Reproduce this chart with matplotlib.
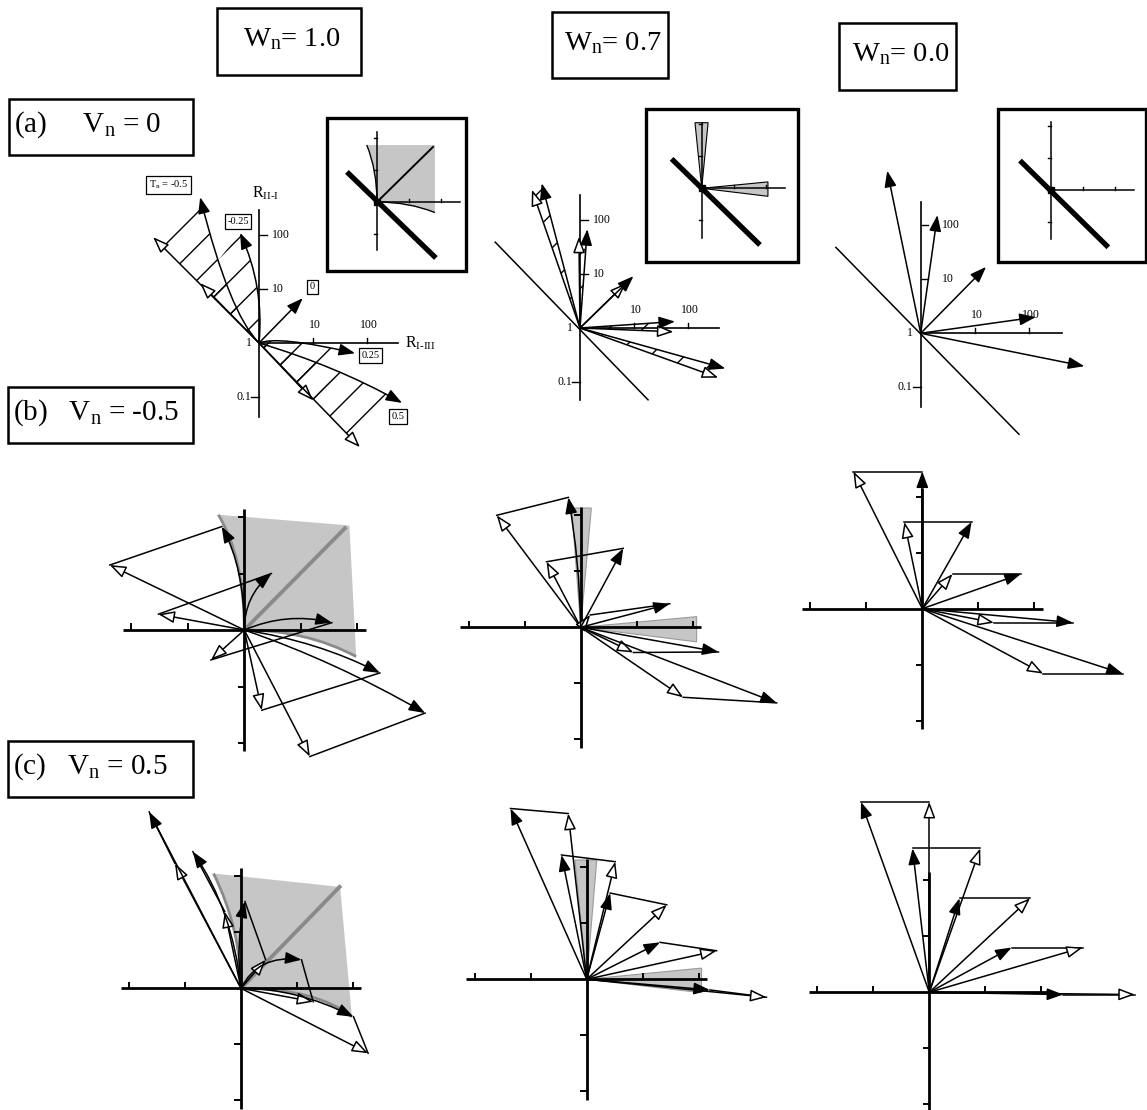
import numpy as np
import matplotlib
matplotlib.use('Agg')
import matplotlib.pyplot as plt
from matplotlib.path import Path
from matplotlib.patches import FancyArrowPatch, PathPatch, Rectangle, Polygon
from matplotlib.collections import LineCollection

nan = np.nan

# ---------------- row (a): Vn = 0, log axes (decades) ----------------
TN_LABELS = ['T$_\\mathrm{n}$ = -0.5', '-0.25', '0', '0.25', '0.5']
TN_LABEL_POS = np.array([[-1.68, 2.93], [-0.39, 2.25], [0.99, 1.04], [2.07, -0.23], [2.58, -1.36]])

# Wn = 1.0
A1_TIP = np.array([[-1.09, 2.70], [-0.35, 2.04], [0.81, 0.83], [1.78, -0.19], [2.65, -1.11]])
A1_CTRL = np.array([[-0.55, 0.55], [0.10, 1.03], [nan, nan], [0.35, 0.14], [1.44, -0.43]])
A1_OPEN = np.array([[-1.96, 1.96], [-1.09, 1.11], [nan, nan], [1.00, -1.06], [1.87, -1.93]])
# Wn = 0.7
A2_TIP = np.array([[-0.71, 2.68], [0.135, 1.83], [0.99, 0.96], [1.76, 0.12], [2.69, -0.75]])
A2_OPEN = np.array([[-0.89, 2.56], [-0.02, 1.69], [0.85, 0.83], [1.73, -0.07], [2.56, -0.92]])
A2_DIAG = np.array([[-1.57, 1.59], [1.26, -1.33]])
# Wn = 0.0
A3_TIP = np.array([[-0.62, 3.01], [0.31, 2.19], [1.21, 1.23], [2.13, 0.30], [3.03, -0.61]])
A3_DIAG = np.array([[-1.57, 1.59], [1.82, -1.87]])

DECADES = [1, 2]
DECADE_LABELS = ['10', '100']

# ---------------- row (b): Vn = -0.5 ----------------
B1_TIP = np.array([[-0.40, 1.83], [0.48, 1.00], [1.55, 0.13], [2.40, -0.76], [3.20, -1.47]])
B1_CTRL = np.array([[0.0, 1.1], [0.0, 0.6], [0.75, 0.32], [1.3, -0.2], [1.6, -0.55]])
B1_OPEN = np.array([[-2.38, 1.15], [-1.52, 0.28], [-0.59, -0.53], [0.31, -1.42], [1.16, -2.24]])
B1_SHADE = dict(ctrl_l=(0.0, 1.28), top_l=(-0.46, 2.04), top_r=(1.86, 1.85),
                bot_r=(1.98, -0.47), ctrl_b=(1.1, 0.0), diag=(1.78, 1.80))

B2_TIP = np.array([[-0.22, 2.32], [0.76, 1.41], [1.59, 0.42], [2.46, -0.44], [3.50, -1.35]])
B2_CTRL = np.array([[-0.02, 1.2], [nan, nan], [nan, nan], [nan, nan], [nan, nan]])
B2_OPEN = np.array([[-1.50, 2.00], [-0.61, 1.17], [0.17, 0.22], [0.94, -0.45], [1.83, -1.25]])
B2_WEDGES = [[(-0.16, 2.13), (0.19, 2.13)], [(2.07, 0.19), (2.07, -0.26)]]

B3_TIP = np.array([[0.0, 2.45], [0.88, 1.55], [1.76, 0.62], [2.69, -0.25], [3.58, -1.16]])
B3_OPEN = np.array([[-1.23, 2.45], [-0.32, 1.55], [0.54, 0.62], [1.28, -0.25], [2.16, -1.16]])

# ---------------- row (c): Vn = 0.5 ----------------
C1_TIP = np.array([[-1.64, 3.15], [-0.86, 2.44], [0.07, 1.55], [1.08, 0.51], [2.01, -0.51]])
C1_CTRL = np.array([[nan, nan], [-0.15, 1.4], [-0.1, 0.8], [0.3, 0.6], [1.0, 0.0]])
C1_OPEN = np.array([[-1.18, 2.23], [-0.29, 1.37], [0.44, 0.51], [1.29, -0.24], [2.27, -1.16]])
C1_SHADE = dict(ctrl_l=(0.0, 1.05), top_l=(-0.49, 2.05), top_r=(1.77, 1.81),
                bot_r=(1.98, -0.51), ctrl_b=(1.35, 0.0), diag=(1.76, 1.81))

C2_TIP = np.array([[-1.36, 3.05], [-0.45, 2.22], [0.42, 1.54], [1.31, 0.66], [2.20, -0.19]])
C2_OPEN = np.array([[-0.33, 2.96], [0.51, 2.10], [1.43, 1.33], [2.32, 0.51], [3.21, -0.32]])
C2_WEDGES = [[(-0.21, 2.13), (0.18, 2.13)], [(2.05, 0.20), (2.05, -0.24)]]

C3_TIP = np.array([[-1.22, 3.40], [-0.30, 2.57], [0.54, 1.68], [1.47, 0.80], [2.39, -0.04]])
C3_OPEN = np.array([[0.0, 3.40], [0.91, 2.57], [1.80, 1.68], [2.74, 0.80], [3.67, -0.04]])

# ---------------- insets of row (a) ----------------
I1_THICK = np.array([[-0.94, 0.94], [1.84, -1.75]])
I1_SHADE = dict(ctrl_l=(0.0, 1.0), top_l=(-0.32, 1.78), top_r=(1.81, 1.78),
                bot_r=(1.81, -0.33), ctrl_b=(1.0, 0.0), diag=(1.75, 1.72))
I2_THICK = np.array([[-0.94, 0.92], [1.82, -1.77]])
I2_WEDGES = [[(-0.21, 2.05), (0.20, 2.05)], [(2.07, 0.20), (2.07, -0.25)]]
I3_THICK = np.array([[-0.96, 0.92], [1.80, -1.79]])

W_TITLES = ['W$_\\mathrm{n}$= 1.0', 'W$_\\mathrm{n}$= 0.7', 'W$_\\mathrm{n}$= 0.0']
ROW_TITLES = ['(a)     V$_\\mathrm{n}$ = 0', '(b)   V$_\\mathrm{n}$ = -0.5', '(c)   V$_\\mathrm{n}$ = 0.5']

plt.rcParams['font.family'] = ['Liberation Serif', 'DejaVu Serif']
plt.rcParams['mathtext.fontset'] = 'custom'
plt.rcParams['mathtext.rm'] = 'Liberation Serif'
plt.rcParams['mathtext.it'] = 'Liberation Serif:italic'

W, H = 1147, 1110
fig = plt.figure(figsize=(W / 100, H / 100), dpi=100)
bg = fig.add_axes([0, 0, 1, 1])
bg.set_xlim(0, W)
bg.set_ylim(H, 0)
bg.axis('off')

SHADE = '#c6c6c6'
HEAD = '-|>,head_length=0.7,head_width=0.26'
M, C3c, L, CL = Path.MOVETO, Path.CURVE3, Path.LINETO, Path.CLOSEPOLY


def panel(ox, oy, u, ext):
    ax = fig.add_axes([(ox - ext * u) / W, 1 - (oy + ext * u) / H, 2 * ext * u / W, 2 * ext * u / H])
    ax.set_xlim(-ext, ext)
    ax.set_ylim(-ext, ext)
    ax.axis('off')
    return ax


def curve(tip, ctrl=None):
    if ctrl is None or np.isnan(ctrl[0]):
        return Path([(0, 0), tuple(tip)])
    return Path([(0, 0), tuple(ctrl), tuple(tip)], [M, C3c, C3c])


def arrow(ax, tip, ctrl=None, filled=True, lw=1.1):
    ax.add_patch(FancyArrowPatch(path=curve(tip, ctrl), arrowstyle=HEAD, mutation_scale=14,
                                 lw=lw, fc='k' if filled else 'w', ec='k',
                                 zorder=5 if filled else 4, clip_on=False))


def hatch(ax, path, step=0.44):
    clip = PathPatch(path, fc='none', ec='none', lw=0)
    ax.add_patch(clip)
    offs = np.arange(-12, 12, step * np.sqrt(2))
    lc = LineCollection([[(-7, -7 + c), (7, 7 + c)] for c in offs], colors='k',
                        linewidths=1.0, zorder=3)
    ax.add_collection(lc, autolim=False)
    lc.set_clip_path(clip)


def shade(ax, s, edge='#8a8a8a', edge_lw=2.0, diag_color='#8a8a8a', diag_lw=2.8):
    verts = [(0, 0), s['ctrl_l'], s['top_l'], s['top_r'], s['bot_r'], s['ctrl_b'], (0, 0), (0, 0)]
    ax.add_patch(PathPatch(Path(verts, [M, C3c, C3c, L, L, C3c, C3c, CL]), fc=SHADE, ec='none', zorder=1))
    for a, b in [(s['ctrl_l'], s['top_l']), (s['ctrl_b'], s['bot_r'])]:
        ax.add_patch(PathPatch(Path([(0, 0), a, b], [M, C3c, C3c]), fc='none', ec=edge, lw=edge_lw, zorder=1.5))
    ax.plot([0, s['diag'][0]], [0, s['diag'][1]], color=diag_color, lw=diag_lw, zorder=1.5)


def wedges(ax, wl, edge='#9a9a9a'):
    for a, b in wl:
        ax.add_patch(Polygon([(0, 0), a, b], closed=True, fc=SHADE, ec=edge, lw=0.8, zorder=1))


def log_frame(ax, xmax, ytop, ybot, lab_dx=0.24):
    ax.plot([0, xmax], [0, 0], color='k', lw=1.2, zorder=2)
    ax.plot([0, 0], [ybot, ytop], color='k', lw=1.2, zorder=2)
    for d, lab in zip(DECADES, DECADE_LABELS):
        ax.plot([0, 0.14], [d, d], color='k', lw=1.0)
        ax.plot([d, d], [0, 0.09], color='k', lw=1.0)
        ax.text(lab_dx, d, lab, ha='left', va='center', fontsize=8.5)
        ax.text(d + 0.04, 0.33, lab, ha='center', va='center', fontsize=8.5)
    ax.plot([-0.14, 0], [-1, -1], color='k', lw=1.0)
    ax.text(-0.15, -1, '0.1', ha='right', va='center', fontsize=8.5)
    ax.text(-0.14, 0, '1', ha='right', va='center', fontsize=8.5)


def lin_frame(ax, ext=2.15):
    ax.plot([-ext, ext], [0, 0], color='k', lw=2.0, zorder=2, solid_capstyle='butt')
    ax.plot([0, 0], [-ext, ext], color='k', lw=2.0, zorder=2, solid_capstyle='butt')
    for t in [-2, -1, 1, 2]:
        ax.plot([t, t], [0, 0.1], color='k', lw=1.4, zorder=2)
        ax.plot([-0.1, 0], [t, t], color='k', lw=1.4, zorder=2)


def pairs(ax, tips, opens, ctrls=None):
    for i in range(len(tips)):
        ctrl = None if ctrls is None else ctrls[i]
        ax.plot([tips[i, 0], opens[i, 0]], [tips[i, 1], opens[i, 1]], color='k', lw=1.1, zorder=3)
        arrow(ax, opens[i], filled=False)
        arrow(ax, tips[i], ctrl, filled=True)


def inset_frame(ax, thick, ytop, ybot, xmax=2.6):
    ax.plot([0, xmax], [0, 0], color='k', lw=1.1, zorder=2)
    ax.plot([0, 0], [ybot, ytop], color='k', lw=1.1, zorder=2)
    for t in [1, 2]:
        ax.plot([t, t], [0, 0.1], color='k', lw=1.0)
    for t in [1, 2, -1]:
        ax.plot([-0.1, 0], [t, t], color='k', lw=1.0)
    ax.plot(thick[:, 0], thick[:, 1], color='k', lw=3.8, zorder=4, solid_capstyle='butt')
    ax.plot([0], [0], marker='s', ms=5, color='k', zorder=5)


# ---- labelled boxes ----
for (x, y, w, h), t in zip([(217, 8, 144, 67), (552, 12, 116, 66), (839, 23, 117, 67)], W_TITLES):
    bg.add_patch(Rectangle((x, y), w, h, fc='white', ec='k', lw=1.8))
    bg.text(x + w / 2 + 3, y + h / 2 - 2, t, ha='center', va='center', fontsize=20.5)
for (x, y, w, h), t in zip([(9, 99, 184, 56), (8, 387, 185, 56), (8, 741, 185, 56)], ROW_TITLES):
    bg.add_patch(Rectangle((x, y), w, h, fc='white', ec='k', lw=1.8))
    bg.text(x + 5, y + h / 2 - 2, t, ha='left', va='center', fontsize=21)
for x, y, w, h in [(327, 118, 139, 153), (646, 109, 152, 153), (998, 109, 148, 153)]:
    bg.add_patch(Rectangle((x, y), w, h, fc='white', ec='k', lw=2.4))

# ---- row (a) ----
ax = panel(259, 343, 54, 3.6)
for i in [0, 1, 3, 4]:
    p = Path([(0, 0), tuple(A1_CTRL[i]), tuple(A1_TIP[i]), tuple(A1_OPEN[i]), (0, 0)], [M, C3c, C3c, L, CL])
    hatch(ax, p)
    arrow(ax, A1_OPEN[i], filled=False)
for i in range(5):
    arrow(ax, A1_TIP[i], A1_CTRL[i])
log_frame(ax, 2.57, 2.46, -1.37)
ax.text(0.13, 2.77, 'R$_\\mathrm{II\u2010I}$', ha='center', va='center', fontsize=11.5)
ax.text(2.70, 0.0, 'R$_\\mathrm{I\u2010III}$', ha='left', va='center', fontsize=11.5)
for (x, y), t in zip(TN_LABEL_POS, TN_LABELS):
    ax.text(x, y, t, ha='center', va='center', fontsize=7.5, zorder=6,
            bbox=dict(boxstyle='square,pad=0.25', fc='white', ec='k', lw=0.9))

ax = panel(580, 328, 54, 3.6)
ax.plot(A2_DIAG[:, 0], A2_DIAG[:, 1], color='k', lw=1.1)
for i in range(5):
    hatch(ax, Path([(0, 0), tuple(A2_TIP[i]), tuple(A2_OPEN[i]), (0, 0)], [M, L, L, CL]), step=0.45)
    arrow(ax, A2_OPEN[i], filled=False)
    arrow(ax, A2_TIP[i])
log_frame(ax, 2.57, 2.46, -1.33)

ax = panel(920.7, 333.3, 54, 3.6)
ax.plot(A3_DIAG[:, 0], A3_DIAG[:, 1], color='k', lw=1.1)
for tip in A3_TIP:
    arrow(ax, tip)
log_frame(ax, 2.61, 2.44, -1.36, lab_dx=0.4)

# ---- insets ----
ax = panel(377, 202, 32, 3)
shade(ax, I1_SHADE, edge='k', edge_lw=1.0, diag_color='k', diag_lw=1.4)
inset_frame(ax, I1_THICK, 2.19, -1.5)

ax = panel(701.7, 188.3, 32, 3)
wedges(ax, I2_WEDGES, edge='k')
inset_frame(ax, I2_THICK, 2.04, -1.55)

ax = panel(1050.7, 190, 32, 3)
inset_frame(ax, I3_THICK, 2.13, -1.54)

# ---- row (b) ----
ax = panel(244.3, 630, 56.5, 4)
shade(ax, B1_SHADE)
lin_frame(ax)
pairs(ax, B1_TIP, B1_OPEN, B1_CTRL)

ax = panel(580.7, 627.3, 56, 4)
wedges(ax, B2_WEDGES)
lin_frame(ax)
pairs(ax, B2_TIP, B2_OPEN, B2_CTRL)

ax = panel(922.3, 608.7, 56, 4)
lin_frame(ax)
pairs(ax, B3_TIP, B3_OPEN)

# ---- row (c) ----
ax = panel(241, 988.3, 56, 4)
shade(ax, C1_SHADE)
lin_frame(ax)
pairs(ax, C1_TIP, C1_OPEN, C1_CTRL)

ax = panel(586.7, 979.3, 56, 4)
wedges(ax, C2_WEDGES)
lin_frame(ax)
pairs(ax, C2_TIP, C2_OPEN)

ax = panel(929.3, 992.3, 56, 4)
lin_frame(ax)
pairs(ax, C3_TIP, C3_OPEN)

fig.savefig('out.png', dpi=100)
